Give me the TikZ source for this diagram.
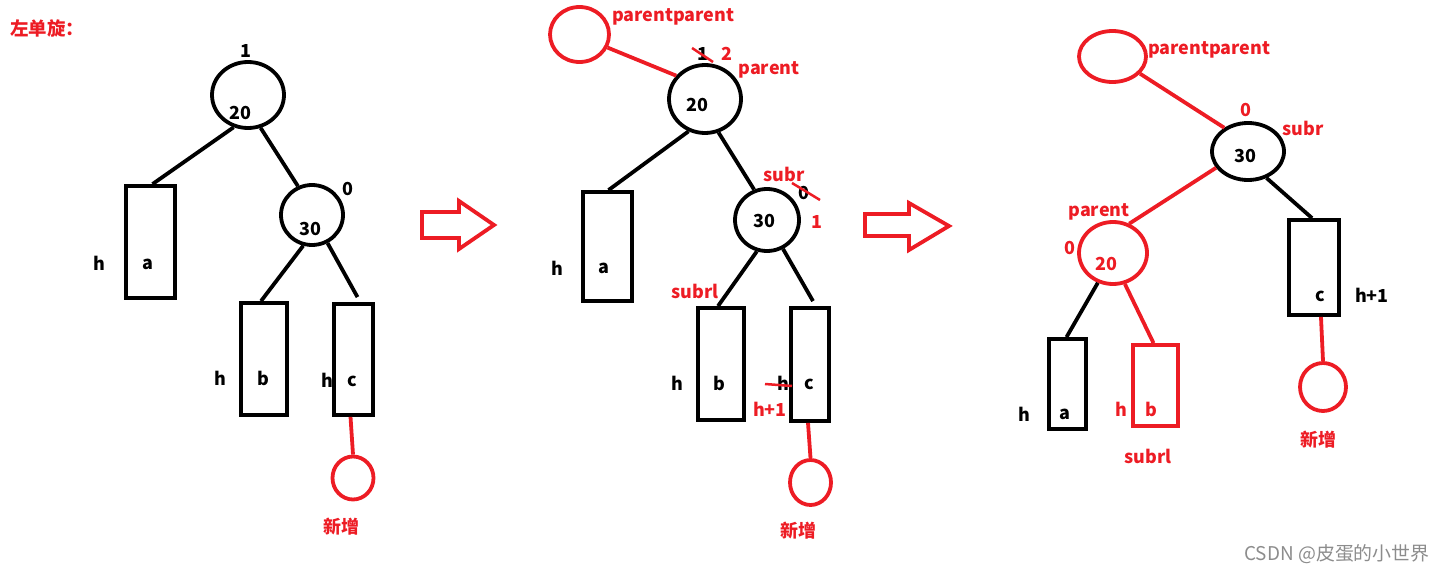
\documentclass[tikz,border=0pt]{standalone}
\usepackage{fontspec}
\setmainfont{Noto Sans CJK SC}
\usetikzlibrary{shapes.geometric}
\definecolor{myred}{RGB}{237,28,36}
\tikzset{
  txt/.style={font=\fontsize{18}{20}\selectfont\bfseries, inner sep=0pt, text=black},
  rtxt/.style={txt, text=myred},
  circ/.style={draw, ellipse, line width=3.8bp, inner sep=0pt},
  rcirc/.style={circ, draw=myred},
  bx/.style={draw, rectangle, line width=3.8bp, inner sep=0pt},
  rbx/.style={bx, draw=myred},
  edge/.style={line width=3.8bp},
  redge/.style={edge, draw=myred},
  strike/.style={draw=myred, line width=2.5bp},
  barrow/.style={draw=myred, line width=3.8bp, line join=miter}
}
\begin{document}
\begin{tikzpicture}[x=1bp, y=-1bp]
\useasboundingbox (0,0) rectangle (1444,574);
% ---------- Left tree ----------
\node[rtxt, font=\fontsize{18.5}{20}\selectfont\bfseries] (title) at (47,28) {左单旋：};
\node[circ, minimum width=72bp, minimum height=66bp] (c20L) at (248,95) {};
\node[circ, minimum width=62bp, minimum height=60bp] (c30L) at (312,215) {};
\node[bx, minimum width=49bp, minimum height=112bp] (aL) at (150.5,242) {};
\node[bx, minimum width=46bp, minimum height=112bp] (bL) at (264,359) {};
\node[bx, minimum width=39bp, minimum height=111bp] (cL) at (353.5,359.5) {};
\node[rcirc, minimum width=41bp, minimum height=43bp] (nL) at (353,478) {};
\draw[edge] (c20L.246) -- ([xshift=2]aL.north);
\draw[edge] (c20L.291) -- (c30L.116);
\draw[edge] (c30L.254) -- ([xshift=-3]bL.north);
\draw[edge] (c30L.299) -- ([shift={(4,-5)}]cL.north);
\draw[redge] ([xshift=-3]cL.south) -- (nL.north);
\node[txt] (l1) at (246,51) {1};
\node[txt] (l20) at (240,113) {20};
\node[txt] (l0) at (348,189) {0};
\node[txt] (l30) at (310,229) {30};
\node[txt] (lha) at (99,263) {h};
\node[txt] (la) at (148,264) {a};
\node[txt] (lhb) at (220,378) {h};
\node[txt] (lb) at (263,378) {b};
\node[txt] (lhc) at (327,380) {h};
\node[txt] (lc) at (352,381) {c};
\node[rtxt] (lnew) at (341,527) {新增};
% arrow 1
\draw[barrow] (422,212) -- (459,212) -- (459,201) -- (494,225) -- (459,249) -- (459,238) -- (422,238) -- cycle;
% ---------- Middle tree ----------
\node[rcirc, minimum width=59bp, minimum height=55bp] (ppM) at (579.5,34.5) {};
\node[circ, minimum width=72bp, minimum height=68bp] (c20M) at (705,99) {};
\node[circ, minimum width=64bp, minimum height=62bp] (c30M) at (767,220) {};
\node[bx, minimum width=49bp, minimum height=109bp] (aM) at (607.5,246.5) {};
\node[bx, minimum width=46bp, minimum height=112bp] (bM) at (721,364) {};
\node[bx, minimum width=38bp, minimum height=113bp] (cM) at (810,364.5) {};
\node[rcirc, minimum width=41bp, minimum height=45bp] (nM) at (810.5,482.5) {};
\draw[redge] (ppM.335) -- (c20M.141);
\draw[edge] (c20M.243) -- ([xshift=1]aM.north);
\draw[edge] (c20M.292) -- (c30M.113);
\draw[edge] (c30M.252) -- ([xshift=-3]bM.north);
\draw[edge] (c30M.299) -- ([shift={(3,-5)}]cM.north);
\draw[redge] ([xshift=-2]cM.south) -- (nM.north);
\node[rtxt] (mpp) at (673,17) {parentparent};
\node[txt] (m1) at (703,54) {1};
\draw[strike] (692,48) -- (713,62);
\node[rtxt] (m2) at (727,54) {2};
\node[rtxt] (mparent) at (769,70) {parent};
\node[txt] (m20) at (697,105) {20};
\node[txt] (mha) at (557,268) {h};
\node[txt] (ma) at (604,268) {a};
\node[rtxt] (msubr) at (784,174) {subr};
\node[txt] (m0) at (804,193) {0};
\draw[strike] (792,183) -- (820,200);
\node[rtxt] (m1b) at (817,222) {1};
\node[txt] (m30) at (764,221) {30};
\node[rtxt] (msubrl) at (695,291) {subrl};
\node[txt] (mhb) at (677,383) {h};
\node[txt] (mb) at (719,383) {b};
\node[txt] (mhc) at (783,383) {h};
\draw[strike] (765,384) -- (792,386);
\node[txt] (mc) at (809,384) {c};
\node[rtxt] (mh1) at (770,409) {h+1};
\node[rtxt] (mnew) at (798,531) {新增};
% arrow 2
\draw[barrow] (865,214) -- (909,214) -- (909,203) -- (949,226) -- (909,250) -- (909,236) -- (865,236) -- cycle;
% ---------- Right tree ----------
\node[rcirc, minimum width=67bp, minimum height=51bp] (ppR) at (1112.5,56.5) {};
\node[circ, minimum width=72bp, minimum height=57bp] (c30R) at (1248,151.5) {};
\node[rcirc, minimum width=68bp, minimum height=62bp] (c20R) at (1113,253) {};
\node[bx, minimum width=37bp, minimum height=90bp] (aR) at (1067.5,384) {};
\node[rbx, minimum width=45bp, minimum height=81bp] (bR) at (1155.5,385.5) {};
\node[bx, minimum width=50bp, minimum height=95bp] (cR) at (1314,267.5) {};
\node[rcirc, minimum width=46bp, minimum height=48bp] (nR) at (1323,387) {};
\draw[redge] (ppR.328) -- (c30R.135);
\draw[redge] (c30R.207) -- (c20R.61);
\draw[edge] (c20R.243) -- ([xshift=-1]aR.north);
\draw[redge] (c20R.291) -- ([xshift=-2]bR.north);
\draw[edge] (c30R.305) -- ([xshift=-2]cR.north);
\draw[redge] ([xshift=7]cR.south) -- (nR.north);
\node[rtxt] (rpp) at (1209,50) {parentparent};
\node[rtxt] (r0a) at (1246,110) {0};
\node[rtxt] (rsubr) at (1303,128) {subr};
\node[txt] (r30) at (1245,156) {30};
\node[rtxt] (rparent) at (1099,212) {parent};
\node[rtxt] (r0b) at (1070,248) {0};
\node[rtxt] (r20) at (1106,264) {20};
\node[txt] (rc) at (1320,296) {c};
\node[txt] (rh1) at (1372,295) {h+1};
\node[txt] (rha) at (1024,414) {h};
\node[txt] (ra) at (1065,414) {a};
\node[rtxt] (rhb) at (1121,409) {h};
\node[rtxt] (rb) at (1151,409) {b};
\node[rtxt] (rsubrl) at (1148,456) {subrl};
\node[rtxt] (rnew) at (1318,440) {新增};
% watermark
\node[font=\fontsize{19}{21}\selectfont, text=black!45, inner sep=0pt] (wm) at (1337,554) {CSDN @皮蛋的小世界};
\end{tikzpicture}
\end{document}
